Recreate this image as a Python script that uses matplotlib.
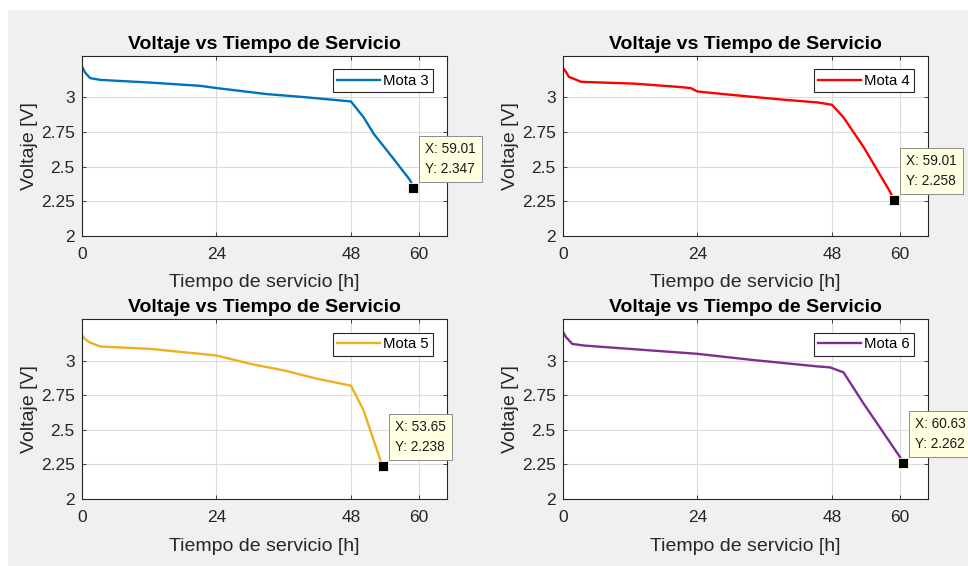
import matplotlib
matplotlib.use("Agg")
import matplotlib.pyplot as plt
from matplotlib.patches import Rectangle

plt.rcParams['font.family'] = ['Liberation Sans', 'DejaVu Sans']

# Curvas de descarga de cada mota (tiempo en horas, voltaje en V)
t_mota3 = [0, 0.6, 1.5, 3.3, 12, 21.1, 24, 33, 38.9, 44.8, 47.95, 50.2, 52.0, 55.3, 58.5, 59.01]
v_mota3 = [3.228, 3.18, 3.14, 3.127, 3.108, 3.084, 3.068, 3.024, 3.005, 2.983, 2.971, 2.856, 2.737, 2.568, 2.40, 2.347]

t_mota4 = [0, 0.5, 1.1, 3.3, 12.7, 20.4, 22.8, 24, 30.5, 39.5, 45.4, 47.95, 50.0, 53.6, 58.3, 59.01]
v_mota4 = [3.216, 3.19, 3.149, 3.113, 3.10, 3.077, 3.068, 3.043, 3.017, 2.983, 2.964, 2.947, 2.856, 2.64, 2.317, 2.258]

t_mota5 = [0, 0.5, 1.3, 3.3, 12.2, 18.1, 24, 30, 36, 41.9, 47.95, 50.2, 53.2, 53.65]
v_mota5 = [3.189, 3.16, 3.135, 3.103, 3.086, 3.062, 3.038, 2.978, 2.93, 2.87, 2.82, 2.64, 2.28, 2.238]

t_mota6 = [0, 0.6, 1.7, 3.8, 24, 33.5, 45.4, 47.6, 50.0, 53.6, 60, 60.63]
v_mota6 = [3.211, 3.17, 3.122, 3.11, 3.05, 3.007, 2.959, 2.952, 2.916, 2.689, 2.307, 2.262]

nombres = ["Mota 3", "Mota 4", "Mota 5", "Mota 6"]
colores = ["#0072BD", "#FF0000", "#EDB120", "#7E2F8E"]
tiempos = [t_mota3, t_mota4, t_mota5, t_mota6]
voltajes = [v_mota3, v_mota4, v_mota5, v_mota6]

x_ticks = [0, 24, 48, 60]
y_ticks = [2, 2.25, 2.5, 2.75, 3]
y_labels = ["2", "2.25", "2.5", "2.75", "3"]

fig = plt.figure(figsize=(9.68, 5.66), dpi=100)
fig.patch.set_facecolor("white")
fig.patches.append(Rectangle((8 / 968, 0), 1, 1 - 10 / 566, transform=fig.transFigure,
                             facecolor="#F0F0F0", edgecolor="none", zorder=-10))

posiciones = [
    [0.0844, 0.5836, 0.3771, 0.3175],
    [0.5813, 0.5836, 0.3771, 0.3175],
    [0.0844, 0.1184, 0.3771, 0.3175],
    [0.5813, 0.1184, 0.3771, 0.3175],
]

gris = "#262626"
for pos, nombre, color, t, v in zip(posiciones, nombres, colores, tiempos, voltajes):
    ax = fig.add_axes(pos)
    ax.plot(t, v, color=color, lw=1.7, label=nombre)
    ax.set_xlim(0, 65)
    ax.set_ylim(2, 3.3)
    ax.set_xticks(x_ticks)
    ax.set_yticks(y_ticks)
    ax.set_yticklabels(y_labels)
    ax.grid(True, color="#DCDCDC", lw=0.8)
    ax.set_axisbelow(True)
    ax.tick_params(direction="in", top=True, right=True, length=3, width=0.6,
                   colors=gris, labelsize=12.5)
    ax.tick_params(axis="x", pad=8)
    ax.tick_params(axis="y", pad=5)
    for s in ax.spines.values():
        s.set_color(gris)
        s.set_linewidth(0.8)
    ax.set_title("Voltaje vs Tiempo de Servicio", fontsize=14, fontweight="bold",
                 color="black", pad=5)
    ax.set_xlabel("Tiempo de servicio [h]", fontsize=14, color=gris, labelpad=9)
    ax.set_ylabel("Voltaje [V]", fontsize=14, color=gris, labelpad=2)
    leg = ax.legend(loc="upper right", fontsize=10.7, handlelength=2.9, handletextpad=0.2,
                    borderpad=0.3, fancybox=False, framealpha=1, borderaxespad=0.9)
    leg.get_frame().set_edgecolor(gris)
    leg.get_frame().set_linewidth(0.8)

    # Marcador del dato final con su etiqueta
    ax.plot(t[-1], v[-1], marker="s", ms=7, color="black", mec="#FFFFE1", mew=0.6,
            clip_on=False, zorder=5)
    ax.annotate("X: %.2f\nY: %.3f" % (t[-1], v[-1]), xy=(t[-1], v[-1]),
                xytext=(8.5, 8.5), textcoords="offset points", ha="left", va="bottom",
                fontsize=9.8, color="#1A1A1A", linespacing=1.55, annotation_clip=False,
                bbox=dict(boxstyle="square,pad=0.45", fc="#FFFFE1", ec="#8C8C8C", lw=0.7),
                zorder=6)

fig.savefig("out.png", dpi=100)
